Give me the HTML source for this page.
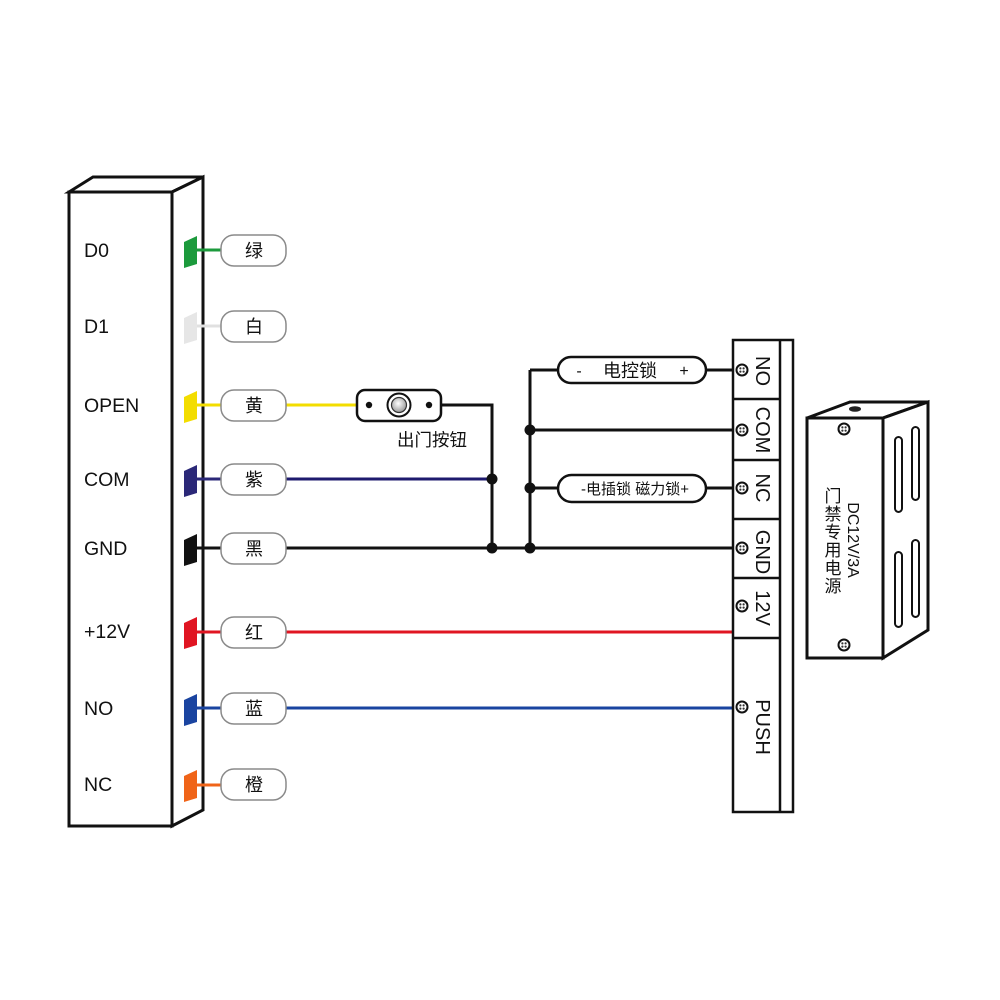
<!DOCTYPE html>
<html><head><meta charset="utf-8"><style>
html,body{margin:0;padding:0;background:#fff;}
svg{display:block;}
text{font-family:"Liberation Sans","Noto Sans CJK SC",sans-serif;}
</style></head><body>
<svg width="1000" height="1000" viewBox="0 0 1000 1000" xmlns="http://www.w3.org/2000/svg">
<defs>
<radialGradient id="btn" cx="0.45" cy="0.4" r="0.6">
<stop offset="0" stop-color="#fff"/><stop offset="1" stop-color="#999"/>
</radialGradient>
<g id="screw">
<circle r="5.5" fill="#fff" stroke="#111" stroke-width="2"/>
<circle cx="-1.6" cy="-1.6" r="1.1" fill="#333"/><circle cx="1.6" cy="-1.6" r="1.1" fill="#333"/>
<circle cx="-1.6" cy="1.6" r="1.1" fill="#333"/><circle cx="1.6" cy="1.6" r="1.1" fill="#333"/>
</g>
</defs>
<rect width="1000" height="1000" fill="#fff"/>

<!-- left controller box -->
<g fill="#fff" stroke="#111" stroke-width="3" stroke-linejoin="miter">
<polygon points="69,192 93,177 203,177 172,192"/>
<polygon points="172,192 203,177 203,810 172,826"/>
<rect x="69" y="192" width="103" height="634"/>
</g>
<g font-size="19.5" fill="#111">
<text x="84" y="257">D0</text>
<text x="84" y="333">D1</text>
<text x="84" y="412">OPEN</text>
<text x="84" y="486">COM</text>
<text x="84" y="555">GND</text>
<text x="84" y="638">+12V</text>
<text x="84" y="715">NO</text>
<text x="84" y="791">NC</text>
</g>

<!-- tabs and wires to pills -->
<g stroke-width="3">
<polygon points="184,242 197,236 197,264 184,268" fill="#1c9a3c" stroke="none"/>
<line x1="197" y1="250" x2="222" y2="250" stroke="#1c9a3c"/>
<polygon points="184,318 197,312 197,340 184,344" fill="#e6e6e6" stroke="none"/>
<line x1="197" y1="326" x2="222" y2="326" stroke="#e0e0e0"/>
<polygon points="184,397 197,391 197,419 184,423" fill="#f3dd00" stroke="none"/>
<line x1="197" y1="405" x2="222" y2="405" stroke="#f3dd00"/>
<polygon points="184,471 197,465 197,493 184,497" fill="#2b2878" stroke="none"/>
<line x1="197" y1="479" x2="222" y2="479" stroke="#2b2878"/>
<polygon points="184,540 197,534 197,562 184,566" fill="#111" stroke="none"/>
<line x1="197" y1="548" x2="222" y2="548" stroke="#111"/>
<polygon points="184,623 197,617 197,645 184,649" fill="#e01522" stroke="none"/>
<line x1="197" y1="632" x2="222" y2="632" stroke="#e01522"/>
<polygon points="184,700 197,694 197,722 184,726" fill="#1a44a0" stroke="none"/>
<line x1="197" y1="708" x2="222" y2="708" stroke="#1a44a0"/>
<polygon points="184,776 197,770 197,798 184,802" fill="#f06418" stroke="none"/>
<line x1="197" y1="785" x2="222" y2="785" stroke="#f06418"/>
</g>

<!-- long wires -->
<g stroke-width="3" fill="none">
<line x1="286" y1="405" x2="358" y2="405" stroke="#f3dd00"/>
<line x1="286" y1="479" x2="492" y2="479" stroke="#1e1a6e"/>
<line x1="286" y1="548" x2="737" y2="548" stroke="#111"/>
<line x1="286" y1="632" x2="734" y2="632" stroke="#e01522"/>
<line x1="286" y1="708" x2="737" y2="708" stroke="#1a44a0"/>
<polyline points="441,405 492,405 492,548" stroke="#111"/>
<line x1="530" y1="370" x2="530" y2="548" stroke="#111"/>
<line x1="530" y1="370" x2="558" y2="370" stroke="#111"/>
<line x1="706" y1="370" x2="737" y2="370" stroke="#111"/>
<line x1="530" y1="430" x2="737" y2="430" stroke="#111"/>
<line x1="530" y1="488" x2="558" y2="488" stroke="#111"/>
<line x1="706" y1="488" x2="737" y2="488" stroke="#111"/>
</g>
<g fill="#111">
<circle cx="492" cy="479" r="5.5"/><circle cx="492" cy="548" r="5.5"/>
<circle cx="530" cy="430" r="5.5"/><circle cx="530" cy="488" r="5.5"/><circle cx="530" cy="548" r="5.5"/>
</g>

<!-- color pills -->
<g fill="#fff" stroke="#8a8a8a" stroke-width="1.5">
<rect x="221" y="235" width="65" height="31" rx="13"/>
<rect x="221" y="311" width="65" height="31" rx="13"/>
<rect x="221" y="390" width="65" height="31" rx="13"/>
<rect x="221" y="464" width="65" height="31" rx="13"/>
<rect x="221" y="533" width="65" height="31" rx="13"/>
<rect x="221" y="617" width="65" height="31" rx="13"/>
<rect x="221" y="693" width="65" height="31" rx="13"/>
<rect x="221" y="769" width="65" height="31" rx="13"/>
</g>
<g font-size="18" fill="#111" text-anchor="middle">
<text x="254" y="257">绿</text>
<text x="254" y="333">白</text>
<text x="254" y="412">黄</text>
<text x="254" y="486">紫</text>
<text x="254" y="555">黑</text>
<text x="254" y="639">红</text>
<text x="254" y="715">蓝</text>
<text x="254" y="791">橙</text>
</g>

<!-- exit button -->
<rect x="357" y="390" width="84" height="31" rx="8" fill="#fff" stroke="#111" stroke-width="2.5"/>
<circle cx="399" cy="405" r="11.5" fill="#fff" stroke="#111" stroke-width="2"/>
<circle cx="399" cy="405" r="7.5" fill="url(#btn)" stroke="#333" stroke-width="1.2"/>
<circle cx="369" cy="405" r="3.2" fill="#111"/>
<circle cx="429" cy="405" r="3.2" fill="#111"/>
<text x="432" y="446" font-size="17.5" text-anchor="middle" fill="#111">出门按钮</text>

<!-- lock pills -->
<rect x="558" y="357" width="148" height="26" rx="13" fill="#fff" stroke="#111" stroke-width="2.5"/>
<text x="579" y="376" font-size="16" text-anchor="middle" fill="#111">-</text>
<text x="630" y="377" font-size="18" text-anchor="middle" fill="#111">电控锁</text>
<text x="684" y="376" font-size="16" text-anchor="middle" fill="#111">+</text>
<rect x="558" y="475" width="148" height="27" rx="13.5" fill="#fff" stroke="#111" stroke-width="2.5"/>
<text x="635" y="494" font-size="15" text-anchor="middle" fill="#111">-电插锁 磁力锁+</text>

<!-- terminal block -->
<g fill="none" stroke="#111" stroke-width="2.5">
<rect x="733" y="340" width="60" height="472" fill="#fff"/>
<line x1="780" y1="340" x2="780" y2="812"/>
<line x1="733" y1="399" x2="780" y2="399"/>
<line x1="733" y1="460" x2="780" y2="460"/>
<line x1="733" y1="519" x2="780" y2="519"/>
<line x1="733" y1="578" x2="780" y2="578"/>
<line x1="733" y1="638" x2="780" y2="638"/>
</g>
<use href="#screw" x="742" y="370"/>
<use href="#screw" x="742" y="430"/>
<use href="#screw" x="742" y="488"/>
<use href="#screw" x="742" y="548"/>
<use href="#screw" x="742" y="606"/>
<use href="#screw" x="742" y="707"/>
<g font-size="20" fill="#111" text-anchor="middle">
<text x="756" y="371" transform="rotate(90 756 371)">NO</text>
<text x="756" y="430" transform="rotate(90 756 430)">COM</text>
<text x="756" y="488" transform="rotate(90 756 488)">NC</text>
<text x="756" y="552" transform="rotate(90 756 552)">GND</text>
<text x="756" y="608" transform="rotate(90 756 608)">12V</text>
<text x="756" y="727" transform="rotate(90 756 727)">PUSH</text>
</g>

<!-- power supply -->
<g fill="#fff" stroke="#111" stroke-width="3" stroke-linejoin="miter">
<polygon points="807,418 850,402 928,402 883,418"/>
<polygon points="883,418 928,402 928,630 883,658"/>
<rect x="807" y="418" width="76" height="240"/>
</g>
<ellipse cx="855" cy="409" rx="6" ry="2.8" fill="#222"/>
<g fill="#fff" stroke="#111" stroke-width="2">
<rect x="895" y="437" width="7" height="75" rx="3.5"/>
<rect x="912" y="427" width="7" height="73" rx="3.5"/>
<rect x="895" y="552" width="7" height="75" rx="3.5"/>
<rect x="912" y="540" width="7" height="77" rx="3.5"/>
</g>
<use href="#screw" x="844" y="429"/>
<use href="#screw" x="844" y="645"/>
<text x="848" y="540" font-size="16" text-anchor="middle" fill="#111" transform="rotate(90 848 540)">DC12V/3A</text>
<g font-size="17" fill="#111" text-anchor="middle">
<text x="833" y="502">门</text>
<text x="833" y="520">禁</text>
<text x="833" y="538">专</text>
<text x="833" y="556">用</text>
<text x="833" y="574">电</text>
<text x="833" y="592">源</text>
</g>
</svg>
</body></html>
